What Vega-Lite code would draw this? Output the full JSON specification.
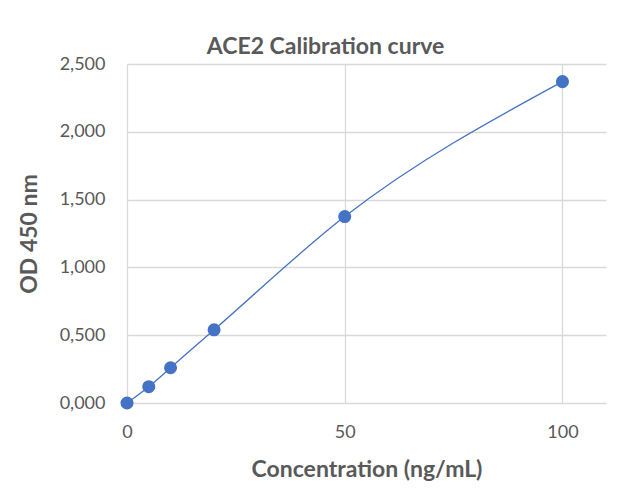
{
  "$schema": "https://vega.github.io/schema/vega-lite/v6.json",
  "autosize": {"type": "none"},
  "width": 479,
  "height": 339,
  "padding": {"left": 127, "top": 64, "right": 25, "bottom": 91},
  "background": "white",
  "config": {
    "view": {"stroke": null},
    "font": "Lato",
    "locale": {"number": {"decimal": ",", "thousands": ".", "grouping": [3], "currency": ["", "€"]}}
  },
  "title": {
    "text": "ACE2 Calibration curve",
    "fontSize": 23,
    "fontWeight": "bold",
    "color": "#595959",
    "anchor": "middle",
    "dx": -41,
    "offset": -4,
    "font": "Lato"
  },
  "data": {
    "values": [
      {"conc": 0, "od": 0.0},
      {"conc": 5, "od": 0.12},
      {"conc": 10, "od": 0.26},
      {"conc": 20, "od": 0.54},
      {"conc": 50, "od": 1.375},
      {"conc": 100, "od": 2.37}
    ]
  },
  "encoding": {
    "x": {
      "field": "conc",
      "type": "quantitative",
      "scale": {"domain": [0, 110], "nice": false},
      "axis": {
        "title": "Concentration (ng/mL)",
        "values": [0, 50, 100],
        "grid": true,
        "gridColor": "#D9D9D9",
        "gridWidth": 1.3,
        "domain": false,
        "ticks": false,
        "labelFontSize": 18,
        "labelColor": "#595959",
        "labelPadding": 20,
        "titleFontSize": 23,
        "titleFontWeight": "bold",
        "titleColor": "#595959",
        "titlePadding": 17,
        "labelFlush": false
      }
    },
    "y": {
      "field": "od",
      "type": "quantitative",
      "scale": {"domain": [0, 2.5], "nice": false},
      "axis": {
        "title": "OD 450 nm",
        "values": [0, 0.5, 1, 1.5, 2, 2.5],
        "format": ".3f",
        "grid": true,
        "gridColor": "#D9D9D9",
        "gridWidth": 1.3,
        "domain": false,
        "ticks": false,
        "labelFontSize": 18,
        "labelColor": "#595959",
        "labelPadding": 22,
        "titleFontSize": 23,
        "titleFontWeight": "bold",
        "titleColor": "#595959",
        "titlePadding": 18,
        "labelFlush": false
      }
    }
  },
  "layer": [
    {
      "mark": {"type": "line", "interpolate": "monotone", "color": "#4472C4", "strokeWidth": 1.3}
    },
    {
      "mark": {"type": "point", "filled": true, "opacity": 1, "color": "#4472C4", "size": 170}
    }
  ]
}
